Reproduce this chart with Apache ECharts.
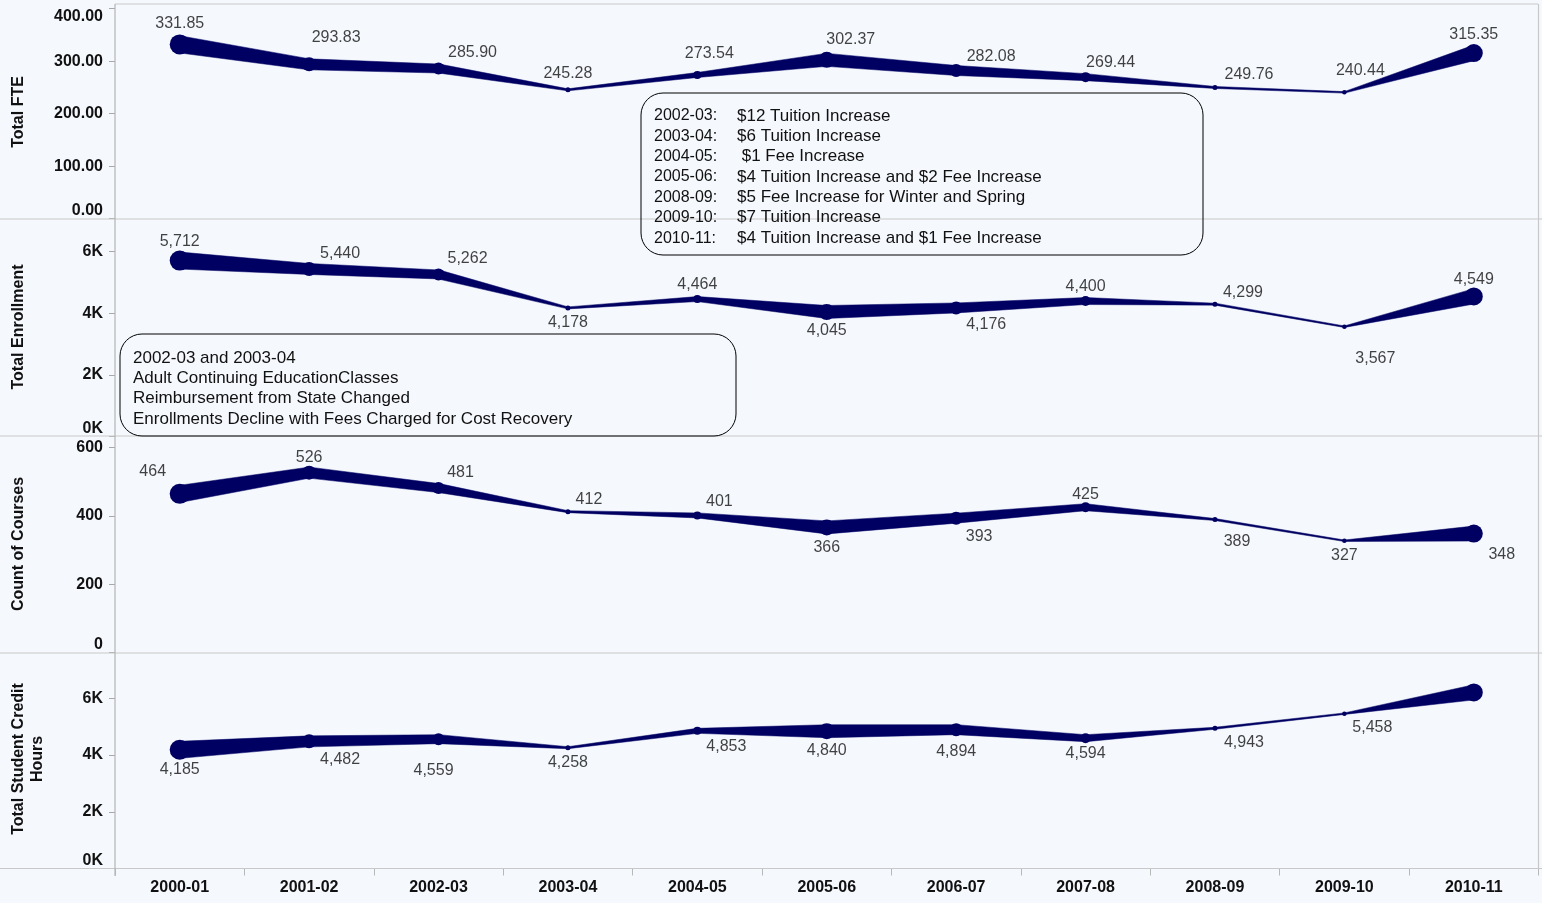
<!DOCTYPE html>
<html>
<head>
<meta charset="utf-8">
<style>
  html, body { margin: 0; padding: 0; background: #F5F8FD; }
  #chart { width: 1542px; height: 903px; }
</style>
<script src="https://cdn.jsdelivr.net/npm/echarts@6/dist/echarts.min.js"></script>
</head>
<body>
<div id="chart"></div>
<script>
// ---------------- DATA ----------------
const categories = ['2000-01','2001-02','2002-03','2003-04','2004-05','2005-06','2006-07','2007-08','2008-09','2009-10','2010-11'];
const totalFTE = [331.85, 293.83, 285.90, 245.28, 273.54, 302.37, 282.08, 269.44, 249.76, 240.44, 315.35];
const totalEnrollment = [5712, 5440, 5262, 4178, 4464, 4045, 4176, 4400, 4299, 3567, 4549];
const countOfCourses = [464, 526, 481, 412, 401, 366, 393, 425, 389, 327, 348];
const totalCreditHours = [4185, 4482, 4559, 4258, 4853, 4840, 4894, 4594, 4943, 5458, 6208];
// size-encoding measure (relative), mapped to line width through a linear scale
const sizeMeasure = [17, 11, 9, 2, 5, 13, 10, 7, 2, 1.5, 15];
const panelTitles = ['Total FTE', 'Total Enrollment', 'Count of Courses', 'Total Student Credit\nHours'];
const feeNotesYears = ['2002-03:', '2003-04:', '2004-05:', '2005-06:', '2008-09:', '2009-10:', '2010-11:'];
const feeNotesText = ['$12 Tuition Increase', '$6 Tuition Increase', ' $1 Fee Increase', '$4 Tuition Increase and $2 Fee Increase', '$5 Fee Increase for Winter and Spring', '$7 Tuition Increase', '$4 Tuition Increase and $1 Fee Increase'];
const enrollNote = ['2002-03 and 2003-04', 'Adult Continuing EducationClasses', 'Reimbursement from State Changed', 'Enrollments Decline with Fees Charged for Cost Recovery'];

// ---------------- STYLE / LAYOUT ----------------
const LINE = '#000062';
const FONT = '"Liberation Sans", Arial, sans-serif';
const W_MIN = 1.5, W_MAX = 17;
const sMin = Math.min(...sizeMeasure), sMax = Math.max(...sizeMeasure);
function widthOf(i) {
  return W_MIN + (sizeMeasure[i] - sMin) / (sMax - sMin) * (W_MAX - W_MIN);
}
const labelOffsets = [
  [[0,-21],[27,-27],[34,-16],[0,-16],[12,-21],[24,-20],[35,-14],[25,-15],[34,-13],[16,-22],[0,-18]],
  [[0,-19],[31,-15],[29,-16],[0,15],[0,-14],[0,19],[30,17],[0,-14],[28,-12],[31,32],[0,-17]],
  [[-27,-22],[0,-15],[22,-15],[21,-12],[22,-14],[0,20],[23,18],[0,-13],[22,22],[0,15],[28,21]],
  [[0,20],[31,18],[-5,31],[0,15],[29,16],[0,19],[0,22],[0,15],[29,14],[28,14],[0,-17]]
];
const gridDefs = [
  { top: 8.6, height: 210 },
  { top: 251.7, height: 185 },
  { top: 447.3, height: 205.4 },
  { top: 698.3, height: 170.2 }
];
const axisDefs = [
  { max: 400, interval: 100, fmt: v => v.toFixed(2) },
  { max: 6000, interval: 2000, fmt: v => (v / 1000) + 'K' },
  { max: 600, interval: 200, fmt: v => String(v) },
  { max: 6000, interval: 2000, fmt: v => (v / 1000) + 'K' }
];
const seriesData = [totalFTE, totalEnrollment, countOfCourses, totalCreditHours];
const valueFmt = [
  v => v.toFixed(2),
  v => v.toLocaleString('en-US'),
  v => v.toLocaleString('en-US'),
  v => v.toLocaleString('en-US')
];
const titleCenters = [112, 327, 544, 759];

const chart = echarts.init(document.getElementById('chart'), null, { renderer: 'canvas' });

const grids = [], xAxes = [], yAxes = [], series = [];
for (let p = 0; p < 4; p++) {
  grids.push({ left: 115, width: 1423.5, top: gridDefs[p].top, height: gridDefs[p].height, containLabel: false });
  const last = p === 3;
  xAxes.push({
    type: 'category', gridIndex: p, data: categories, boundaryGap: true,
    axisLine: { show: last, lineStyle: { color: '#b8b8b8', width: 1 } },
    axisTick: { show: last, length: 7, lineStyle: { color: '#b8b8b8' } },
    axisLabel: { show: last, margin: 11, color: '#111', fontFamily: FONT, fontWeight: 'bold', fontSize: 16 },
    splitLine: { show: false }
  });
  yAxes.push({
    type: 'value', gridIndex: p, min: 0, max: axisDefs[p].max, interval: axisDefs[p].interval,
    axisLine: { show: false },
    axisTick: { show: true, length: 6, lineStyle: { color: '#a8a8a8' } },
    axisLabel: {
      color: '#111', fontFamily: FONT, fontWeight: 'bold', fontSize: 16, margin: 12,
      formatter: axisDefs[p].fmt,
      verticalAlignMinLabel: 'bottom',
      verticalAlignMaxLabel: p === 0 ? 'top' : 'middle'
    },
    splitLine: { show: false }
  });
  const vals = seriesData[p];
  series.push({
    type: 'custom', xAxisIndex: p, yAxisIndex: p,
    data: vals.map((v, i) => [i, v]),
    encode: { x: 0, y: 1 },
    silent: true,
    renderItem: function (params, api) {
      const i = params.dataIndex;
      const p0 = api.coord([i, vals[i]]);
      const w0 = widthOf(i);
      const children = [];
      if (i < vals.length - 1) {
        const p1 = api.coord([i + 1, vals[i + 1]]);
        const w1 = widthOf(i + 1);
        const dx = p1[0] - p0[0], dy = p1[1] - p0[1];
        const L = Math.hypot(dx, dy);
        const nx = -dy / L, ny = dx / L;
        children.push({
          type: 'polygon',
          shape: { points: [
            [p0[0] + nx * w0 / 2, p0[1] + ny * w0 / 2],
            [p1[0] + nx * w1 / 2, p1[1] + ny * w1 / 2],
            [p1[0] - nx * w1 / 2, p1[1] - ny * w1 / 2],
            [p0[0] - nx * w0 / 2, p0[1] - ny * w0 / 2]
          ] },
          style: { fill: LINE, stroke: LINE, lineWidth: 0.5 }
        });
      }
      children.push({ type: 'circle', shape: { cx: p0[0], cy: p0[1], r: w0 / 2 + 1.5 }, style: { fill: LINE } });
      return { type: 'group', children: children };
    },
    z: 2
  });
  series.push({
    type: 'scatter', xAxisIndex: p, yAxisIndex: p, symbolSize: 0, silent: true, z: 3,
    data: vals.map((v, i) => ({
      value: [i, v],
      label: { offset: labelOffsets[p][i] }
    })),
    label: {
      show: true, position: 'inside', color: '#111', fontFamily: FONT, fontSize: 16,
      formatter: (prm) => valueFmt[p](prm.value[1])
    }
  });
}

const SEP = '#c8c8c8';
const graphics = [];
// panel frame / separators
[[115, 4, 1538, 4], [0, 219, 1542, 219], [0, 436, 1542, 436], [0, 653, 1542, 653], [0, 868.5, 1542, 868.5]].forEach(l => {
  graphics.push({ type: 'line', shape: { x1: l[0], y1: l[1], x2: l[2], y2: l[3] }, style: { stroke: SEP, lineWidth: 1.2 }, z: 1, silent: true });
});
graphics.push({ type: 'line', shape: { x1: 1538.5, y1: 4, x2: 1538.5, y2: 868.5 }, style: { stroke: SEP, lineWidth: 1.2 }, z: 1, silent: true });
graphics.push({ type: 'line', shape: { x1: 115, y1: 4, x2: 115, y2: 876 }, style: { stroke: '#b4b4b4', lineWidth: 1.2 }, z: 1, silent: true });
// panel titles
for (let p = 0; p < 4; p++) {
  graphics.push({
    type: 'text', x: p === 3 ? 28 : 19, y: titleCenters[p], rotation: Math.PI / 2,
    style: { text: panelTitles[p], font: 'bold 16px ' + FONT, fill: '#111', align: 'center', verticalAlign: 'middle', lineHeight: 19 },
    silent: true, z: 5
  });
}
// annotation boxes
const NOTE_FONT = '17px ' + FONT;
graphics.push({ type: 'rect', shape: { x: 641, y: 93, width: 562, height: 162, r: 22 }, style: { fill: 'none', stroke: '#000', lineWidth: 1 }, z: 6, silent: true });
feeNotesYears.forEach((t, k) => {
  const y = 116 + k * 20.35;
  graphics.push({ type: 'text', x: 654, y: y, style: { text: t, font: '16px ' + FONT, fill: '#111', verticalAlign: 'middle' }, z: 6, silent: true });
  graphics.push({ type: 'text', x: 737, y: y, style: { text: feeNotesText[k], font: NOTE_FONT, fill: '#111', verticalAlign: 'middle' }, z: 6, silent: true });
});
graphics.push({ type: 'rect', shape: { x: 120, y: 334, width: 616, height: 102, r: 22 }, style: { fill: 'none', stroke: '#000', lineWidth: 1 }, z: 6, silent: true });
enrollNote.forEach((t, k) => {
  graphics.push({ type: 'text', x: 133, y: 358 + k * 20.35, style: { text: t, font: NOTE_FONT, fill: '#111', verticalAlign: 'middle' }, z: 6, silent: true });
});

chart.setOption({
  backgroundColor: '#F5F8FD',
  animation: false,
  grid: grids,
  xAxis: xAxes,
  yAxis: yAxes,
  series: series,
  graphic: graphics
});
</script>
</body>
</html>
